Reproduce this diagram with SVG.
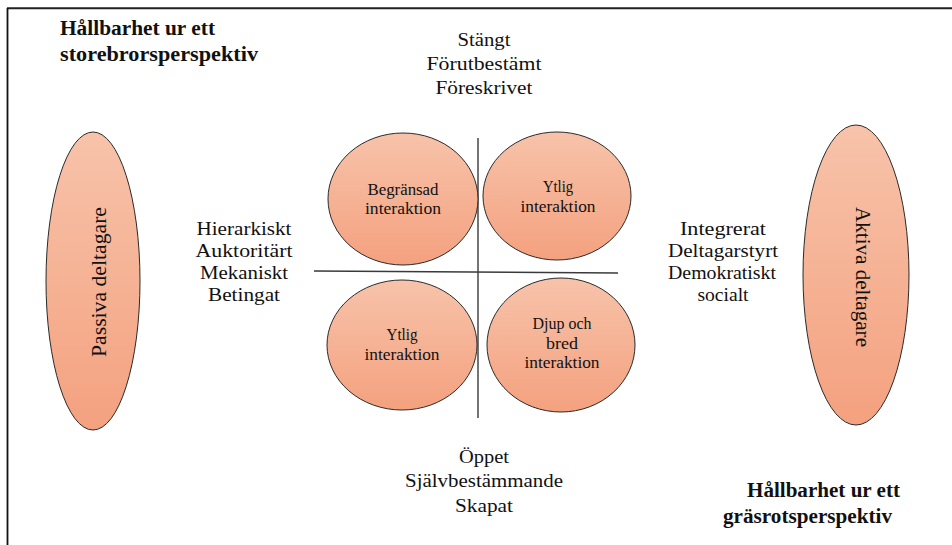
<svg xmlns="http://www.w3.org/2000/svg" width="952" height="545" viewBox="0 0 952 545">
  <defs>
    <linearGradient id="peach" x1="0" y1="0" x2="0" y2="1">
      <stop offset="0" stop-color="#F7C3AA"/>
      <stop offset="1" stop-color="#F4A17F"/>
    </linearGradient>
    <style>
      .blob { fill: url(#peach); stroke: #2a2a2a; stroke-width: 1; }
      .t { font-family: "Liberation Serif", "DejaVu Serif", serif; fill: #111; }
      .lbl { font-size: 19px; text-anchor: middle; }
      .in { font-size: 16px; text-anchor: middle; }
      .head { font-size: 20px; font-weight: bold; }
      .rot { font-size: 20px; text-anchor: middle; }
      .axis { stroke: #3a3a3a; stroke-width: 1.4; fill: none; }
    </style>
  </defs>
  <rect width="952" height="545" fill="#fff"/>

  <!-- page frame (top and left edges only) -->
  <g id="frame">
    <line x1="7" y1="8.3" x2="952" y2="8.3" stroke="#222" stroke-width="2"/>
    <line x1="7.5" y1="8" x2="7.5" y2="545" stroke="#111" stroke-width="1.8"/>
  </g>

  <!-- headings -->
  <g id="heading-top" class="t head">
    <text x="60" y="35" textLength="155" lengthAdjust="spacingAndGlyphs">Hållbarhet ur ett</text>
    <text x="60" y="61" textLength="198" lengthAdjust="spacingAndGlyphs">storebrorsperspektiv</text>
  </g>
  <g id="heading-bottom" class="t head">
    <text x="747" y="497" textLength="153" lengthAdjust="spacingAndGlyphs">Hållbarhet ur ett</text>
    <text x="723" y="523" textLength="169" lengthAdjust="spacingAndGlyphs">gräsrotsperspektiv</text>
  </g>

  <!-- quadrant axes -->
  <g id="connectors">
    <line class="axis" x1="478" y1="138" x2="478" y2="418" stroke="#555"/>
    <line class="axis" x1="314" y1="271" x2="618" y2="273"/>
  </g>

  <!-- side ellipses -->
  <g id="passiva">
    <ellipse class="blob" cx="93" cy="281" rx="47" ry="149"/>
    <text class="t rot" transform="translate(106 282) rotate(-90)" textLength="150" lengthAdjust="spacingAndGlyphs">Passiva deltagare</text>
  </g>
  <g id="aktiva">
    <ellipse class="blob" cx="856" cy="275" rx="53" ry="150"/>
    <text class="t rot" transform="translate(856 277) rotate(90)" textLength="140" lengthAdjust="spacingAndGlyphs">Aktiva deltagare</text>
  </g>

  <!-- quadrant circles -->
  <g id="q-begransad">
    <ellipse class="blob" cx="403" cy="199" rx="75" ry="66"/>
    <text class="t in" x="403" y="195" textLength="71" lengthAdjust="spacingAndGlyphs">Begränsad</text>
    <text class="t in" x="403" y="214" textLength="76" lengthAdjust="spacingAndGlyphs">interaktion</text>
  </g>
  <g id="q-ytlig-top">
    <ellipse class="blob" cx="557" cy="196" rx="74" ry="64"/>
    <text class="t in" x="558" y="192" textLength="30" lengthAdjust="spacingAndGlyphs">Ytlig</text>
    <text class="t in" x="558" y="212" textLength="75" lengthAdjust="spacingAndGlyphs">interaktion</text>
  </g>
  <g id="q-ytlig-bottom">
    <ellipse class="blob" cx="402" cy="345" rx="75" ry="65"/>
    <text class="t in" x="402" y="340" textLength="31" lengthAdjust="spacingAndGlyphs">Ytlig</text>
    <text class="t in" x="402" y="360" textLength="75" lengthAdjust="spacingAndGlyphs">interaktion</text>
  </g>
  <g id="q-djup">
    <ellipse class="blob" cx="561" cy="345" rx="74" ry="67"/>
    <text class="t in" x="562" y="329" textLength="59" lengthAdjust="spacingAndGlyphs">Djup och</text>
    <text class="t in" x="562" y="349" textLength="32" lengthAdjust="spacingAndGlyphs">bred</text>
    <text class="t in" x="562" y="368" textLength="75" lengthAdjust="spacingAndGlyphs">interaktion</text>
  </g>

  <!-- axis pole labels -->
  <g id="pole-top" class="t lbl">
    <text x="484" y="46" textLength="53" lengthAdjust="spacingAndGlyphs">Stängt</text>
    <text x="484" y="70" textLength="115" lengthAdjust="spacingAndGlyphs">Förutbestämt</text>
    <text x="484" y="94" textLength="97" lengthAdjust="spacingAndGlyphs">Föreskrivet</text>
  </g>
  <g id="pole-bottom" class="t lbl">
    <text x="484" y="463" textLength="50" lengthAdjust="spacingAndGlyphs">Öppet</text>
    <text x="484" y="487" textLength="158" lengthAdjust="spacingAndGlyphs">Självbestämmande</text>
    <text x="484" y="512" textLength="58" lengthAdjust="spacingAndGlyphs">Skapat</text>
  </g>
  <g id="pole-left" class="t lbl">
    <text x="244" y="235" textLength="95" lengthAdjust="spacingAndGlyphs">Hierarkiskt</text>
    <text x="244" y="257" textLength="97" lengthAdjust="spacingAndGlyphs">Auktoritärt</text>
    <text x="244" y="279" textLength="88" lengthAdjust="spacingAndGlyphs">Mekaniskt</text>
    <text x="244" y="301" textLength="72" lengthAdjust="spacingAndGlyphs">Betingat</text>
  </g>
  <g id="pole-right" class="t lbl">
    <text x="723" y="235" textLength="86" lengthAdjust="spacingAndGlyphs">Integrerat</text>
    <text x="723" y="257" textLength="110" lengthAdjust="spacingAndGlyphs">Deltagarstyrt</text>
    <text x="722" y="279" textLength="108" lengthAdjust="spacingAndGlyphs">Demokratiskt</text>
    <text x="723" y="301" textLength="51" lengthAdjust="spacingAndGlyphs">socialt</text>
  </g>
</svg>
